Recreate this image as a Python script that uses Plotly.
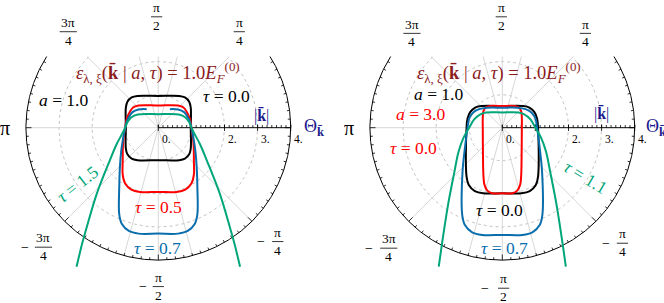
import numpy as np
import plotly.graph_objects as go

# ---------------- data (k̄ components of the Fermi contours) -------------
# left panel: a = 1.0
L_tau00_kx = [0, 0.63, 0.805, 0.933, 0.98, 0.98, 0.98, 0.933, 0.805, 0.63, 0, -0.63, -0.805, -0.933, -0.98, -0.98, -0.98, -0.933, -0.805, -0.63, 0]
L_tau00_ky = [0.96, 0.96, 0.913, 0.785, 0.61, 0, -0.63, -0.805, -0.933, -0.98, -0.98, -0.98, -0.933, -0.805, -0.63, 0, 0.61, 0.785, 0.913, 0.96, 0.96]

L_tau05_kx = [0, 0.6, 0.76, 0.89, 0.97, 1.0, 1.04, 1.07, 1.075, 1.075, 1.005, 0.815, 0.555, 0, -0.555, -0.815, -1.005, -1.075, -1.075, -1.07, -1.04, -1.0, -0.97, -0.89, -0.76, -0.6, 0]
L_tau05_ky = [0.67, 0.67, 0.61, 0.42, 0.2, 0, -0.25, -0.6, -1.0, -1.42, -1.68, -1.87, -1.94, -1.94, -1.94, -1.87, -1.68, -1.42, -1.0, -0.6, -0.25, 0, 0.2, 0.42, 0.61, 0.67, 0.67]

L_tau07_kx = [0.35, 0.6, 0.78, 0.9, 0.97, 1.0, 1.06, 1.12, 1.16, 1.18, 1.18, 1.10, 0.89, 0.6, 0, -0.6, -0.89, -1.10, -1.18, -1.18, -1.16, -1.12, -1.06, -1.0, -0.97, -0.9, -0.78, -0.6, -0.35]
L_tau07_ky = [0.56, 0.55, 0.47, 0.3, 0.13, 0, -0.3, -0.7, -1.2, -1.8, -2.62, -2.91, -3.12, -3.2, -3.2, -3.2, -3.12, -2.91, -2.62, -1.8, -1.2, -0.7, -0.3, 0, 0.13, 0.3, 0.47, 0.55, 0.56]

L_tau15_kx = [-2.47, -2.3, -2.16, -1.86, -1.47, -1.26, -1.1, -1.0, -0.93, -0.82, -0.62, 0, 0.62, 0.82, 0.93, 1.0, 1.1, 1.26, 1.47, 1.86, 2.16, 2.3, 2.47]
L_tau15_ky = [-4.2, -3.5, -3.0, -2.0, -1.0, -0.5, -0.2, 0, 0.17, 0.31, 0.4, 0.41, 0.4, 0.31, 0.17, 0, -0.2, -0.5, -1.0, -2.0, -3.0, -3.5, -4.2]

# right panel
R_a10_kx = [0, 0.62, 0.82, 0.97, 1.05, 1.08, 1.08, 1.013, 0.83, 0.58, 0, -0.58, -0.83, -1.013, -1.08, -1.08, -1.05, -0.97, -0.82, -0.62, 0]
R_a10_ky = [0.655, 0.655, 0.61, 0.47, 0.28, 0, -1.48, -1.73, -1.913, -1.98, -1.98, -1.98, -1.913, -1.73, -1.48, 0, 0.28, 0.47, 0.61, 0.655, 0.655]

R_a30_kx = [0, 0.37, 0.5, 0.57, 0.59, 0.59, 0.585, 0.57, 0.54, 0.45, 0.3, 0, -0.3, -0.45, -0.54, -0.57, -0.585, -0.59, -0.59, -0.57, -0.5, -0.37, 0]
R_a30_ky = [0.655, 0.655, 0.61, 0.5, 0.3, 0, -0.7, -1.45, -1.72, -1.9, -1.98, -1.98, -1.98, -1.9, -1.72, -1.45, -0.7, 0, 0.3, 0.5, 0.61, 0.655, 0.655]

R_tau07_kx = [0, 0.45, 0.7, 0.88, 1.0, 1.05, 1.14, 1.2, 1.21, 1.13, 0.91, 0.61, 0, -0.61, -0.91, -1.13, -1.21, -1.2, -1.14, -1.05, -1.0, -0.88, -0.7, -0.45, 0]
R_tau07_ky = [0.604, 0.604, 0.56, 0.46, 0.28, 0, -0.7, -1.3, -2.64, -2.94, -3.16, -3.24, -3.24, -3.24, -3.16, -2.94, -2.64, -1.3, -0.7, 0, 0.28, 0.46, 0.56, 0.604, 0.604]

R_tau11_kx = [-1.92, -1.79, -1.63, -1.45, -1.32, -1.17, -1.0, -0.85, -0.65, -0.48, 0, 0.48, 0.65, 0.85, 1.0, 1.17, 1.32, 1.45, 1.63, 1.79, 1.92]
R_tau11_ky = [-4.2, -3.29, -2.28, -1.35, -0.72, -0.3, 0, 0.25, 0.41, 0.46, 0.46, 0.46, 0.41, 0.25, 0, -0.3, -0.72, -1.35, -2.28, -3.29, -4.2]

# axes / ticks
radial_max = 4
grid_radii = [1, 2, 3]
radial_ticks = [0, 1, 2, 3, 4]
radial_tick_labels = ["0.", "", "2.", "3.", "4."]
spoke_angles_deg = [45, 75, 90, 105, 135, 180, 225, 255, 270, 285, 315]
angular_tick_deg = [45, 90, 135, 180, 225, 270, 315]
angular_tick_num = ["π", "π", "3π", "π", "3π", "π", "π"]
angular_tick_den = ["4", "2", "4", "", "4", "2", "4"]
angular_tick_sign = ["", "", "", "", "−", "−", "−"]

# ---------------- styling / layout ----------------
FONT = "Liberation Serif"
BLACK, RED, BLUE, GREEN = "#000000", "#ff0000", "#0a6ead", "#00a67a"
DARKRED, NAVY = "#8b1c1c", "#1a1a8c"
GRID = "#d2d2d2"
W, H = 664, 303
S = 33.1            # px per unit of |k|
CY = 127.7          # px from top of the pole
YCLIP = 2.15        # grid is cut above this height

panels = [
    dict(xa="x", ya="y", cx=158.3, x0=0, x1=332),
    dict(xa="x2", ya="y2", cx=502.3, x0=332, x1=664),
]

fig = go.Figure()
annotations = []
shapes = []


def line_trace(xs, ys, p, color, width, dash=None, shape="linear"):
    fig.add_trace(go.Scatter(x=xs, y=ys, mode="lines", xaxis=p["xa"], yaxis=p["ya"],
                             line=dict(color=color, width=width, dash=dash, shape=shape),
                             hoverinfo="skip", showlegend=False))


def ann(p, x, y, text, size=16, color=BLACK, angle=0, xanchor="center", yanchor="middle"):
    annotations.append(dict(x=x, y=y, xref=p["xa"], yref=p["ya"], text=text, showarrow=False,
                            font=dict(family=FONT, size=size, color=color), textangle=angle,
                            xanchor=xanchor, yanchor=yanchor))


def draw_grid(p):
    # dashed circles
    th = np.radians(np.linspace(0, 360, 721))
    xs, ys = [], []
    for r in grid_radii:
        x = r * np.cos(th)
        y = r * np.sin(th)
        y = np.where(y > YCLIP, np.nan, y)
        xs += list(x) + [None]
        ys += list(y) + [None]
    line_trace(xs, ys, p, "#bdbdbd", 0.9, dash="3px,3px")
    # spokes
    xs, ys = [], []
    for a in spoke_angles_deg:
        t = np.radians(a)
        rend = radial_max if np.sin(t) <= 1e-9 else min(radial_max, YCLIP / np.sin(t))
        xs += [0, rend * np.cos(t), None]
        ys += [0, rend * np.sin(t), None]
    line_trace(xs, ys, p, GRID, 0.9)
    # outer frame (partial)
    lim = np.degrees(np.arcsin(YCLIP / radial_max))
    th = np.radians(np.linspace(180 - lim, 360 + lim, 600))
    line_trace(list(radial_max * np.cos(th)), list(radial_max * np.sin(th)), p, BLACK, 1.0)
    # ticks on the frame
    xs, ys = [], []
    for d in np.arange(0, 360, 3.75):
        t = np.radians(d)
        if radial_max * np.sin(t) > YCLIP:
            continue
        ln = 0.17 if abs(d % 45) < 1e-6 else 0.08
        xs += [radial_max * np.cos(t), (radial_max - ln) * np.cos(t), None]
        ys += [radial_max * np.sin(t), (radial_max - ln) * np.sin(t), None]
    line_trace(xs, ys, p, BLACK, 0.8)
    # radial axis with ticks
    line_trace([0, radial_max], [0, 0], p, BLACK, 1.0)
    xs, ys = [], []
    for v in np.arange(0, radial_max + 1e-6, 1 / 7):
        xs += [v, v, None]
        ys += [0, 0.08, None]
    for v in radial_ticks:
        xs += [v, v, None]
        ys += [-0.1, 0.1, None]
    line_trace(xs, ys, p, BLACK, 0.8)
    for v, lab in zip(radial_ticks, radial_tick_labels):
        if lab:
            ann(p, v + 0.04, -0.33, lab, size=11.5, xanchor="left")


ang_pos = [
    {45: (2.447, 2.90), 90: (-0.05, 3.35), 135: (-2.72, 2.90), 180: (-4.63, 0.0),
     225: (-3.47, -3.61), 270: (0.0, -4.80), 315: (3.61, -3.44)},
    {45: (2.51, 2.85), 90: (-0.03, 3.35), 135: (-2.73, 2.85), 180: (-4.64, 0.0),
     225: (-3.43, -3.64), 270: (0.04, -4.85), 315: (3.63, -3.49)},
]
minus_x = [{225: -4.03, 270: -0.45, 315: 3.10}, {225: -4.04, 270: -0.51, 315: 3.12}]


def draw_angle_labels(i, p):
    for d, num, den, sg in zip(angular_tick_deg, angular_tick_num, angular_tick_den, angular_tick_sign):
        x, y = ang_pos[i][d]
        if not den:
            ann(p, x, y, num, size=20)
            continue
        ann(p, x, y + 0.28, num, size=13.5)
        ann(p, x, y - 0.26, den, size=13.5)
        bw = 0.52 if len(num) > 1 else 0.34
        shapes.append(dict(type="line", xref=p["xa"], yref=p["ya"], x0=x - bw / 2, x1=x + bw / 2,
                           y0=y, y1=y, line=dict(color=BLACK, width=0.8)))
        if sg:
            ann(p, minus_x[i][d], y, sg, size=14)


for i, p in enumerate(panels):
    draw_grid(p)
    draw_angle_labels(i, p)

# curves
L, R = panels
for kx, ky, col in [(L_tau00_kx, L_tau00_ky, BLACK), (L_tau05_kx, L_tau05_ky, RED),
                    (L_tau07_kx, L_tau07_ky, BLUE), (L_tau15_kx, L_tau15_ky, GREEN)]:
    line_trace(kx, ky, L, col, 2.0, shape="spline")
for kx, ky, col in [(R_a10_kx, R_a10_ky, BLACK), (R_a30_kx, R_a30_ky, RED),
                    (R_tau07_kx, R_tau07_ky, BLUE), (R_tau11_kx, R_tau11_ky, GREEN)]:
    line_trace(kx, ky, R, col, 2.0, shape="spline")

# texts
kbar = "<b>k\u0304</b>"
eps = f"<i>ε</i><sub>λ, ξ</sub>({kbar} | <i>a</i>, <i>τ</i>) = 1.0<i>E</i><sub><i>F</i></sub><sup>(0)</sup>"
for p, dx in [(L, 0.0), (R, -0.11)]:
    ann(p, dx, 1.68, eps, size=18.5, color=DARKRED)
ann(L, 4.33, 0.0, f"Θ<sub>{kbar}</sub>", size=18, color=NAVY, xanchor="left")
ann(R, 4.27, 0.0, f"Θ<sub>{kbar}</sub>", size=18, color=NAVY, xanchor="left")
ann(L, 3.13, 0.38, f"|{kbar}|", size=16, color=NAVY)
ann(R, 3.01, 0.435, f"|{kbar}|", size=16, color=NAVY)

TS = 17.5
ann(L, -2.85, 0.84, "<i>a</i> = 1.0", size=TS)
ann(L, 2.05, 0.96, "<i>τ</i> = 0.0", size=TS)
ann(L, -2.44, -1.70, "<i>τ</i> = 1.5", size=TS, color=GREEN, angle=-38)
ann(L, 0.02, -2.39, "<i>τ</i> = 0.5", size=TS, color=RED)
ann(L, -0.01, -3.64, "<i>τ</i> = 0.7", size=TS, color=BLUE)

ann(R, -1.94, 1.01, "<i>a</i> = 1.0", size=TS)
ann(R, -2.46, 0.42, "<i>a</i> = 3.0", size=TS, color=RED)
ann(R, -2.67, -0.60, "<i>τ</i> = 0.0", size=TS, color=RED)
ann(R, -0.085, -2.49, "<i>τ</i> = 0.0", size=TS)
ann(R, 0.08, -3.64, "<i>τ</i> = 0.7", size=TS, color=BLUE)
ann(R, 2.50, -1.50, "<i>τ</i> = 1.1", size=TS, color=GREEN, angle=31)

layout_axes = {}
for k, p in enumerate(panels):
    sfx = "" if k == 0 else "2"
    layout_axes["xaxis" + sfx] = dict(domain=[p["x0"] / W, p["x1"] / W],
                                      range=[(p["x0"] - p["cx"]) / S, (p["x1"] - p["cx"]) / S],
                                      visible=False, fixedrange=True)
    layout_axes["yaxis" + sfx] = dict(domain=[0, 1], range=[-(H - CY) / S, CY / S],
                                      visible=False, fixedrange=True,
                                      anchor="x" + sfx)
layout_axes["xaxis2"]["anchor"] = "y2"

fig.update_layout(width=W, height=H, margin=dict(l=0, r=0, t=0, b=0, autoexpand=False),
                  paper_bgcolor="white", plot_bgcolor="white", showlegend=False,
                  annotations=annotations, shapes=shapes, **layout_axes)

fig.write_html("out.html", config={"displayModeBar": False},
               post_script="document.body.style.margin='0';")
